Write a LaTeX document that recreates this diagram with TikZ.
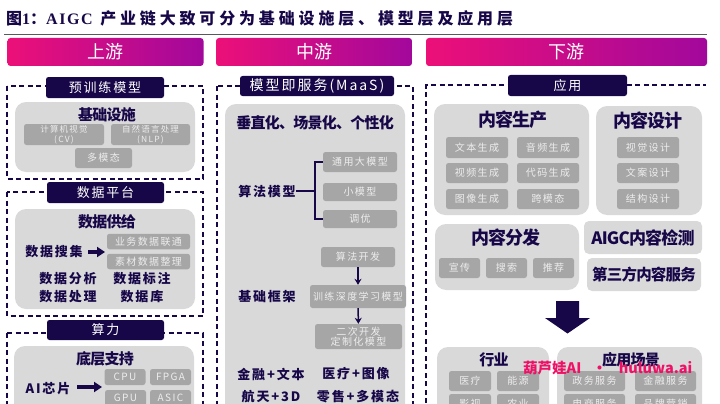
\documentclass[tikz,border=0pt]{standalone}
\usepackage{fontspec}
\setmainfont{Noto Sans CJK SC}
\newfontfamily\wide[LetterSpace=14]{Noto Sans CJK SC}
\newfontfamily\tight[LetterSpace=-5]{Noto Sans CJK SC}
\newfontfamily\capfont[LetterSpace=24]{Noto Sans CJK SC}
\newfontfamily\titleserif[LetterSpace=10]{Liberation Serif}
\usetikzlibrary{arrows.meta}
\definecolor{navy}{HTML}{170748}
\definecolor{panelgray}{HTML}{D9D9D9}
\definecolor{chipgray}{HTML}{A6A6A6}
\definecolor{chiptext}{HTML}{EDEDED}
\definecolor{barleft}{HTML}{EC1078}
\definecolor{barright}{HTML}{A2089C}
\definecolor{markpink}{HTML}{EE1166}
\tikzset{
  headbar/.style={rounded corners=3pt, left color=barleft, right color=barright,
    text=white, font=\fontsize{18}{18}\selectfont, inner sep=0pt},
  tagbox/.style={rounded corners=2.5pt, fill=navy, text=white,
    font=\wide\fontsize{13}{13}\selectfont, inner sep=0pt},
  frame/.style={draw=navy, line width=1.2pt, dash pattern=on 5pt off 3.5pt},
  panel/.style={rounded corners=11pt, fill=panelgray},
  chip/.style={rounded corners=2.5pt, fill=chipgray, text=chiptext, align=center,
    font=\wide\fontsize{10}{10.5}\selectfont, inner sep=0pt},
  smallchip/.style={chip, font=\wide\fontsize{8.5}{10}\selectfont},
  paneltitle/.style={text=navy, font=\tight\bfseries\fontsize{15}{15}\selectfont, inner sep=0pt},
  bigtitle/.style={paneltitle, font=\tight\bfseries\fontsize{18}{18}\selectfont},
  bodytext/.style={text=navy, font=\wide\bfseries\fontsize{13}{13}\selectfont, inner sep=0pt},
  thinlink/.style={draw=navy, line width=1.4pt},
  fatlink/.style={draw=navy, line width=3.6pt, -{Triangle[length=8pt,width=10pt]}},
  downlink/.style={draw=navy, line width=1.5pt, -{Stealth[length=6pt,width=7pt]}},
}
% chip: name, x, y, width, height, text
\newcommand{\chipat}[6]{\node[chip, minimum width=#4pt, minimum height=#5pt] (#1) at (#2,#3) {#6};}
\begin{document}
\begin{tikzpicture}[x=1pt,y=-1pt]
  \useasboundingbox (0,0) rectangle (720,404);
  \clip (0,0) rectangle (720,404);
  % caption and rule
  \node[anchor=west, inner sep=0pt, text=navy, font=\capfont\bfseries\fontsize{16}{16}\selectfont] (caption) at (6,18)
    {图{\titleserif 1}：{\titleserif AIGC} 产业链大致可分为基础设施层、模型层及应用层};
  \draw[black!65, line width=0.9pt] (4,34.5) -- (707,34.5);
  % three head bars
  \node[headbar, minimum width=196pt, minimum height=28pt] (up) at (105.5,52) {上游};
  \node[headbar, minimum width=196pt, minimum height=28pt] (mid) at (314,52) {中游};
  \node[headbar, minimum width=281pt, minimum height=28pt] (down) at (566.5,52) {下游};

  % dashed frames
  \draw[frame] (7,86) rectangle (203,179);
  \draw[frame] (7,192) rectangle (203,316);
  \draw[frame] (7,333) -- (7,420) (7,333) -- (203,333) -- (203,420);
  \draw[frame] (217,86) rectangle (413,420);
  \draw[frame] (426,420) -- (426,85) -- (706,85);

  % frame tags
  \node[tagbox, minimum width=118pt, minimum height=21pt] (pretrain) at (105,87.5) {预训练模型};
  \node[tagbox, minimum width=117pt, minimum height=21pt] (dataplat) at (105.5,192.5) {数据平台};
  \node[tagbox, minimum width=117pt, minimum height=20pt] (compute) at (105.5,330) {算力};
  \node[tagbox, minimum width=154pt, minimum height=20pt, font=\wide\fontsize{14}{14}\selectfont] (maas) at (317,86) {模型即服务(MaaS)};
  \node[tagbox, minimum width=119pt, minimum height=21pt] (apply) at (567.5,85.5) {应用};

  % upstream: infrastructure
  \fill[panel] (15,102) rectangle (195,172);
  \node[paneltitle] (infra) at (107,115) {基础设施};
  \node[smallchip, minimum width=80pt, minimum height=21pt] (cv) at (64,134.5) {计算机视觉\\(CV)};
  \node[smallchip, minimum width=79pt, minimum height=21pt] (nlp) at (150.5,134.5) {自然语言处理\\(NLP)};
  \chipat{multi}{103.5}{158}{57}{20}{多模态}

  % upstream: data supply
  \fill[panel] (15,209) rectangle (195,309);
  \node[paneltitle] (supply) at (107,222) {数据供给};
  \node[bodytext] (collect) at (54,252) {数据搜集};
  \chipat{bizdata}{148.5}{241.5}{83}{15.5}{业务数据联通}
  \chipat{matdata}{148.5}{261.5}{83}{15.5}{素材数据整理}
  \coordinate (collectend) at (105,252);
  \draw[fatlink] (88,252) -- (collectend);
  \node[bodytext] (analyse) at (68,279) {数据分析};
  \node[bodytext] (label) at (142,279) {数据标注};
  \node[bodytext] (process) at (68,297) {数据处理};
  \node[bodytext] (database) at (142,297) {数据库};

  % upstream: base support
  \fill[panel] (14,346) rectangle (194,430);
  \node[paneltitle] (support) at (105,359) {底层支持};
  \node[bodytext] (chips) at (48,389) {AI芯片};
  \chipat{cpu}{125}{377}{41}{16}{CPU}
  \chipat{fpga}{170.5}{377}{41}{16}{FPGA}
  \chipat{gpu}{125.5}{398}{41}{16}{GPU}
  \chipat{asic}{170.5}{398}{41}{16}{ASIC}
  \coordinate (chipsend) at (102,387);
  \draw[fatlink] (77,387) -- (chipsend);

  % midstream
  \fill[panel] (225,104) rectangle (405,430);
  \node[paneltitle] (vertical) at (315,123) {垂直化、场景化、个性化};
  \node[bodytext] (algo) at (267,191) {算法模型};
  \chipat{general}{360}{162}{74}{20}{通用大模型}
  \chipat{small}{360}{192}{74}{18}{小模型}
  \chipat{tune}{360}{219}{74}{18}{调优}
  \coordinate (bus) at (315,191);
  \draw[thinlink] (algo) -- (bus);
  \draw[thinlink] (general.west) -| (bus);
  \draw[thinlink] (tune.west) -| (bus);
  \node[bodytext] (frameworks) at (267,297) {基础框架};
  \chipat{algodev}{358}{257}{74}{20}{算法开发}
  \chipat{train}{358}{296.5}{96}{23}{训练深度学习模型}
  \chipat{second}{358.5}{336.5}{87}{25}{二次开发\\定制化模型}
  \draw[downlink] (algodev) -- (train);
  \draw[downlink] (train) -- (second);
  \node[bodytext] (finance) at (271,374) {金融+文本};
  \node[bodytext] (medical) at (356,374) {医疗+图像};
  \node[bodytext] (space) at (271,397) {航天+3D};
  \node[bodytext] (retail) at (358,397) {零售+多模态};

  % downstream: content production
  \fill[panel] (434,104) rectangle (589,215);
  \node[bigtitle] (produce) at (513,120) {内容生产};
  \chipat{textgen}{477}{147.5}{62}{21}{文本生成}
  \chipat{audiogen}{548}{147.5}{62}{21}{音频生成}
  \chipat{videogen}{477}{173}{62}{20}{视频生成}
  \chipat{codegen}{548}{173}{62}{20}{代码生成}
  \chipat{imagegen}{477}{199}{62}{20}{图像生成}
  \chipat{crossgen}{548}{199}{62}{20}{跨模态}
  % content design
  \fill[panel] (596,106) rectangle (702,215);
  \node[bigtitle] (design) at (648,121) {内容设计};
  \chipat{visual}{648}{147.5}{62}{21}{视觉设计}
  \chipat{copy}{648}{173}{62}{20}{文案设计}
  \chipat{struct}{648}{199}{62}{20}{结构设计}
  % content distribution
  \fill[panel] (435,224) rectangle (579,290);
  \node[bigtitle] (distrib) at (506,238) {内容分发};
  \chipat{promo}{459.5}{268}{41}{20}{宣传}
  \chipat{search}{506.5}{268}{41}{20}{搜索}
  \chipat{recomm}{553.5}{268}{41}{20}{推荐}
  % two plain panels
  \node[panel, rounded corners=5pt, minimum width=118pt, minimum height=33pt, inner sep=0pt,
    text=navy, font=\tight\bfseries\fontsize{17}{17}\selectfont] (detect) at (643,237.5) {AIGC内容检测};
  \node[panel, rounded corners=5pt, minimum width=114pt, minimum height=33pt, inner sep=0pt,
    text=navy, font=\tight\bfseries\fontsize{15.5}{16}\selectfont] (third) at (644,274.5) {第三方内容服务};
  % big arrow
  \fill[navy] (556,301) -- (579,301) -- (579,318) -- (590,318) -- (567.5,333.5) -- (545,318) -- (556,318) -- cycle;

  % industry
  \fill[panel] (437,347) rectangle (549,430);
  \node[paneltitle] (industry) at (494,360) {行业};
  \chipat{medic}{470}{381}{42}{20}{医疗}
  \chipat{energy}{518}{381}{42}{20}{能源}
  \chipat{film}{470}{404}{42}{20}{影视}
  \chipat{farm}{518}{404}{42}{20}{农业}
  % scenes
  \fill[panel] (557,347) rectangle (702,430);
  \node[paneltitle] (scene) at (631,360) {应用场景};
  \chipat{gov}{594.5}{381}{61}{20}{政务服务}
  \chipat{fin}{665.5}{381}{61}{20}{金融服务}
  \chipat{shop}{594.5}{404}{61}{20}{电商服务}
  \chipat{brand}{665.5}{404}{61}{20}{品牌营销}

  % overlay mark
  \node[anchor=west, inner sep=0pt, text=markpink, font=\bfseries\fontsize{14.5}{15}\selectfont] (mark) at (523,368)
    {葫芦娃AI\hspace{11pt}·\hspace{12pt}huluwa.ai};
\end{tikzpicture}
\end{document}
